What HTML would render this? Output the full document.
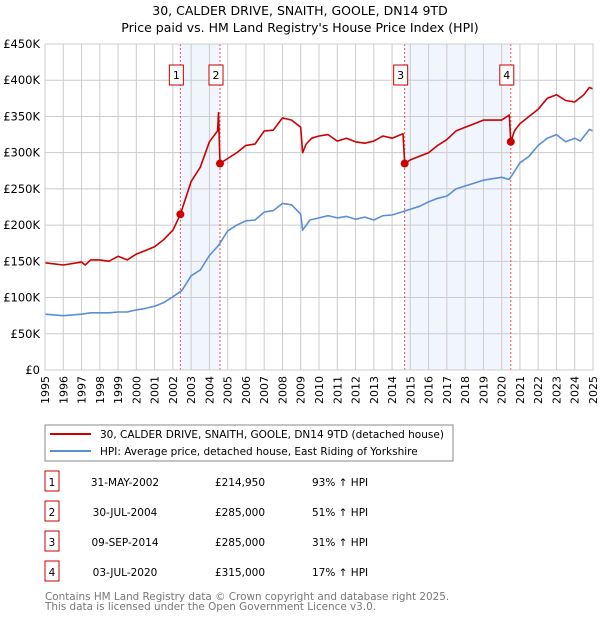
<!DOCTYPE html>
<html><head><meta charset="utf-8"><style>
body{margin:0;background:#fff;font-family:"DejaVu Sans","Liberation Sans",sans-serif;}
svg text{font-family:"DejaVu Sans","Liberation Sans",sans-serif;}
</style></head><body>
<svg id="c" width="600" height="620" xmlns="http://www.w3.org/2000/svg">
<text x="300" y="15" text-anchor="middle" font-size="12.5">30, CALDER DRIVE, SNAITH, GOOLE, DN14 9TD</text>
<text x="300" y="32" text-anchor="middle" font-size="12.5">Price paid vs. HM Land Registry's House Price Index (HPI)</text>
<g id="plot"></g>
<rect x="45" y="425" width="408" height="36" fill="#fff" stroke="#888"/>
<line x1="50" y1="434" x2="91" y2="434" stroke="#cc0000" stroke-width="2"/>
<text x="100" y="438" font-size="10.5">30, CALDER DRIVE, SNAITH, GOOLE, DN14 9TD (detached house)</text>
<line x1="50" y1="451" x2="91" y2="451" stroke="#5b8fd4" stroke-width="2"/>
<text x="100" y="455" font-size="10.5">HPI: Average price, detached house, East Riding of Yorkshire</text>
<g id="tbl"></g>
<text x="45" y="600" font-size="10.4" fill="#777">Contains HM Land Registry data © Crown copyright and database right 2025.</text>
<text x="45" y="610" font-size="10.4" fill="#777">This data is licensed under the Open Government Licence v3.0.</text>
</svg>
<script>
const hpiYears=[1995,1996,1997,1997.5,1998,1998.5,1999,1999.5,2000,2000.5,2001,2001.5,2002,2002.5,2003,2003.5,2004,2004.5,2005,2005.5,2006,2006.5,2007,2007.5,2008,2008.5,2009,2009.1,2009.5,2010,2010.5,2011,2011.5,2012,2012.5,2013,2013.5,2014,2014.5,2015,2015.5,2016,2016.5,2017,2017.5,2018,2018.5,2019,2019.5,2020,2020.4,2020.6,2021,2021.5,2022,2022.5,2023,2023.5,2024,2024.3,2024.8,2025];
const hpiValues=[77,75,77,79,79,79,80,80,83,85,88,93,101,110,130,138,158,172,192,200,206,207,218,220,230,228,215,193,207,210,213,210,212,208,211,207,213,214,218,222,226,232,237,240,250,254,258,262,264,266,263,270,286,295,310,320,325,315,320,316,332,330];
const ppYears=[1995,1996,1997,1997.2,1997.5,1998,1998.5,1999,1999.5,2000,2000.5,2001,2001.5,2002,2002.41,2003,2003.5,2004,2004.45,2004.5,2004.58,2005,2005.5,2006,2006.5,2007,2007.5,2008,2008.5,2009,2009.1,2009.3,2009.6,2010,2010.5,2011,2011.5,2012,2012.5,2013,2013.5,2014,2014.6,2014.69,2015,2015.5,2016,2016.5,2017,2017.5,2018,2018.5,2019,2019.5,2020,2020.42,2020.5,2020.7,2021,2021.5,2022,2022.5,2023,2023.5,2024,2024.5,2024.8,2025];
const ppValues=[148,145,149,145,152,152,150,157,152,160,165,170,180,193,214.95,260,280,315,330,355,285,292,300,310,312,330,331,348,345,335,300,312,320,323,325,316,320,315,313,316,323,320,326,285,290,295,300,310,318,330,335,340,345,345,345,352,315,330,340,350,360,375,380,372,370,380,390,388];
const saleYears=[2002.41,2004.58,2014.69,2020.5];
const salePrices=[214950,285000,285000,315000];
const saleLabels=["1","2","3","4"];
const saleDates=["31-MAY-2002","30-JUL-2004","09-SEP-2014","03-JUL-2020"];
const salePriceText=["£214,950","£285,000","£285,000","£315,000"];
const saleHpiText=["93% ↑ HPI","51% ↑ HPI","31% ↑ HPI","17% ↑ HPI"];
const yTicks=[0,50,100,150,200,250,300,350,400,450];
const yTickLabels=["£0","£50K","£100K","£150K","£200K","£250K","£300K","£350K","£400K","£450K"];
const xTicks=[1995,1996,1997,1998,1999,2000,2001,2002,2003,2004,2005,2006,2007,2008,2009,2010,2011,2012,2013,2014,2015,2016,2017,2018,2019,2020,2021,2022,2023,2024,2025];

const NS="http://www.w3.org/2000/svg";
const X0=45,X1=593,Y0=370,Y1=44;
const xs=y=>X0+(y-1995)/30*(X1-X0);
const ys=v=>Y0-v/450*(Y0-Y1);
const P=document.getElementById('plot');
function mk(t,a,parent){const e=document.createElementNS(NS,t);for(const k in a)e.setAttribute(k,a[k]);(parent||P).appendChild(e);return e;}
for(let i=0;i<saleYears.length;i+=2){
 const r=mk('rect',{x:xs(saleYears[i]),y:Y1,width:xs(saleYears[i+1])-xs(saleYears[i]),height:Y0-Y1,fill:'#eef3fc',opacity:0.8});
 
 
}
xTicks.forEach(t=>{
 const l=mk('line',{x1:xs(t),x2:xs(t),y1:Y1,y2:Y0,stroke:'#ccc','stroke-width':1});
 
 
 const tx=mk('text',{x:0,y:0,'font-size':11,'text-anchor':'end',transform:`translate(${xs(t)+4},${Y0+6}) rotate(-90)`});
 tx.textContent=t;
 
 
});
yTicks.forEach((t,i)=>{
 const l=mk('line',{x1:X0,x2:X1,y1:ys(t),y2:ys(t),stroke:'#ccc','stroke-width':1});
 
 
 const tx=mk('text',{x:40,y:ys(t)+4,'font-size':11.5,'text-anchor':'end'});
 tx.textContent=yTickLabels[i];
 
 
});
saleYears.forEach((s,i)=>{
 const l=mk('line',{x1:xs(s),x2:xs(s),y1:Y1,y2:Y0,stroke:'#e05555','stroke-width':1,'stroke-dasharray':'2,2'});
 
 
 const r=mk('rect',{x:xs(s)-11,y:65,width:14,height:20,fill:'#fff',stroke:'#c00'});
 
 
 const t=mk('text',{x:xs(s)-4,y:79,'font-size':11,'text-anchor':'middle'});
 t.textContent=saleLabels[i];
 
 
});
function line(xa,va,col,name){
 const pts=xa.map((x,i)=>xs(x).toFixed(1)+','+ys(va[i]).toFixed(1)).join(' ');
 const p=mk('polyline',{points:pts,fill:'none',stroke:col,'stroke-width':1.6,'stroke-linejoin':'round'});
 
 
}
line(hpiYears,hpiValues,'#5b8fd4','hpi-line');
line(ppYears,ppValues,'#cc0000','price-paid-line');
saleYears.forEach((s,i)=>{
 const c=mk('circle',{cx:xs(s),cy:ys(salePrices[i]/1000),r:4,fill:'#cc0000'});
 
 
});
mk('rect',{x:X0,y:Y1,width:X1-X0,height:Y0-Y1,fill:'none',stroke:'#ccc'});
const T=document.getElementById('tbl');
saleLabels.forEach((lab,i)=>{
 const y=483+i*30;
 const r=mk('rect',{x:45,y:y-12,width:14,height:20,fill:'#fff',stroke:'#c00'},T);
 
 
 const cols=[[52,lab,'middle'],[125,saleDates[i],'middle'],[240,salePriceText[i],'middle'],[312,saleHpiText[i],'start']];
 cols.forEach(([x,txt,a],j)=>{
  const t=mk('text',{x:x,y:y+3,'font-size':10.5,'text-anchor':a},T);
  t.textContent=txt;
  
  
 });
});
</script>
</body></html>
